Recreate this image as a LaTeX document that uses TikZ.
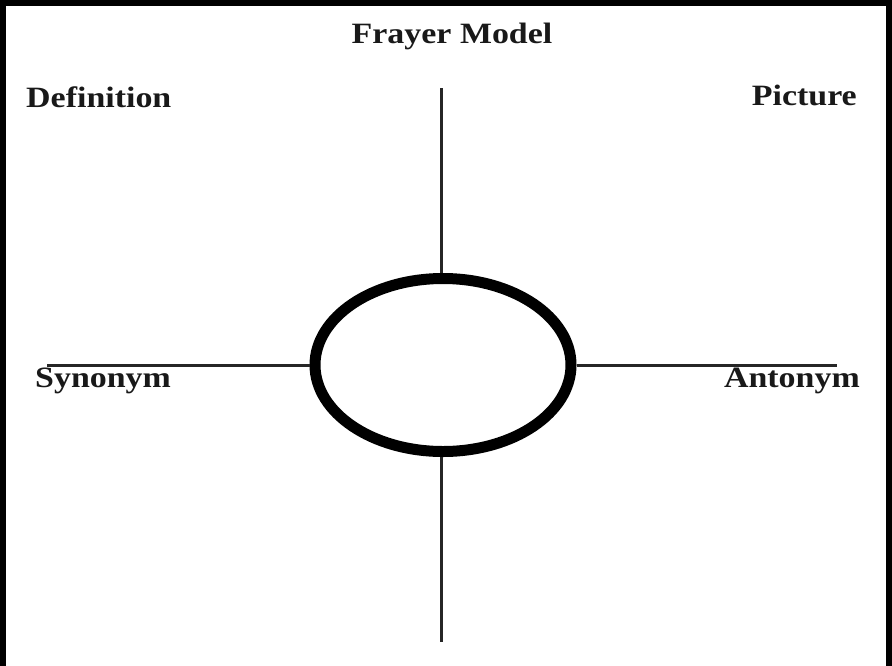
\documentclass[tikz,border=0pt]{standalone}
\usepackage{fontspec}
\setmainfont{Liberation Serif}
\usetikzlibrary{shapes.geometric}
\begin{document}
\begin{tikzpicture}[x=1pt,y=-1pt,
  lbl/.style={font=\fontsize{29.5}{34}\selectfont\bfseries, inner sep=0pt, xscale=1.15, text=black!90},
  hub/.style={draw, ellipse, line width=11pt, minimum width=256pt, minimum height=173pt, inner sep=0pt},
  arm/.style={line width=3pt, draw=black!85}
]
\useasboundingbox (0,0) rectangle (892,665);
\fill[white] (0,0) rectangle (892,665);
\draw[line width=6pt] (3,670) -- (3,3) -- (889,3) -- (889,670);
\node[hub] (c) at (443,365) {};
\coordinate (t) at (441,88);
\coordinate (b) at (441,642);
\coordinate (l) at (47,365);
\coordinate (r) at (837,365);
\draw[arm] (t) -- (t |- c.north);
\draw[arm] (b |- c.south) -- (b);
\draw[arm] (l) -- (c.west);
\draw[arm] (c.east) -- (r);
\node[lbl, anchor=base] (title) at (452,43) {Frayer Model};
\node[lbl, anchor=base west] (def) at (26,107) {Definition};
\node[lbl, anchor=base east] (pic) at (857,105) {Picture};
\node[lbl, anchor=base west] (syn) at (35,387) {Synonym};
\node[lbl, anchor=base east] (ant) at (860,387) {Antonym};
\end{tikzpicture}
\end{document}
